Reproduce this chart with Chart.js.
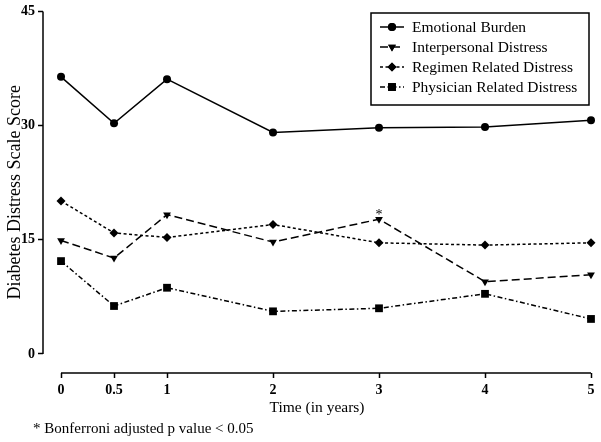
<!DOCTYPE html>
<html>
<head>
<meta charset="utf-8">
<script src="https://cdn.jsdelivr.net/npm/chart.js@4/dist/chart.umd.min.js"></script>
<style>
html,body{margin:0;padding:0;background:#fff;}
#wrap{width:601px;height:442px;position:relative;}
</style>
</head>
<body>
<div id="wrap"><canvas id="c" width="601" height="442"></canvas></div>
<script>
const years = [0, 0.5, 1, 2, 3, 4, 5];
const xTickValues = [0, 0.5, 1, 2, 3, 4, 5];
const yTickValues = [0, 15, 30, 45];
const emotionalBurden = [36.4, 30.3, 36.1, 29.1, 29.7, 29.8, 30.7];
const interpersonalDistress = [14.9, 12.6, 18.3, 14.7, 17.7, 9.5, 10.4];
const regimenDistress = [20.1, 15.9, 15.3, 17.0, 14.6, 14.3, 14.6];
const physicianDistress = [12.2, 6.3, 8.7, 5.6, 6.0, 7.9, 4.6];
const seriesLabels = ['Emotional Burden', 'Interpersonal Distress', 'Regimen Related Distress', 'Physician Related Distress'];
const xTitle = 'Time (in years)';
const yTitle = 'Diabetes Distress Scale Score';
const footnote = '* Bonferroni adjusted p value < 0.05';
const significantSeries = 1;
const significantIndex = 4;

const SERIF = '"Liberation Serif", "Times New Roman", serif';

function pts(arr){ return years.map((x,i)=>({x:x, y:arr[i]})); }

const styles = [
  {dash: [], pointStyle: 'circle', radius: 4, rotation: 0},
  {dash: [8, 4], pointStyle: 'triangle', radius: 4.5, rotation: 180},
  {dash: [3, 2.5], pointStyle: 'rectRot', radius: 4.5, rotation: 0},
  {dash: [5, 2.5, 1.5, 2.5], pointStyle: 'rect', radius: 5.5, rotation: 0}
];
const allData = [emotionalBurden, interpersonalDistress, regimenDistress, physicianDistress];

const datasets = allData.map((d, i) => ({
  label: seriesLabels[i],
  data: pts(d),
  borderColor: '#000',
  backgroundColor: '#000',
  borderWidth: 1.5,
  borderDash: styles[i].dash,
  pointStyle: styles[i].pointStyle,
  pointRadius: styles[i].radius,
  pointRotation: styles[i].rotation,
  pointBorderWidth: 0,
  pointBackgroundColor: '#000',
  tension: 0,
  clip: false
}));

const decor = {
  id: 'decor',
  afterDraw(chart) {
    const ctx = chart.ctx;
    const xs = chart.scales.x, ys = chart.scales.y;
    const ca = chart.chartArea;
    ctx.save();
    ctx.strokeStyle = '#000';
    ctx.lineWidth = 1.5;
    ctx.setLineDash([]);
    // y axis line
    ctx.beginPath();
    ctx.moveTo(ca.left, ys.getPixelForValue(45));
    ctx.lineTo(ca.left, ys.getPixelForValue(0));
    ctx.stroke();
    // x axis line
    ctx.beginPath();
    ctx.moveTo(xs.getPixelForValue(0), ca.bottom);
    ctx.lineTo(xs.getPixelForValue(5), ca.bottom);
    ctx.stroke();
    // asterisk
    ctx.fillStyle = '#000';
    ctx.font = '14px ' + SERIF;
    ctx.textAlign = 'center';
    ctx.textBaseline = 'middle';
    const ax = xs.getPixelForValue(years[significantIndex]);
    const ay = ys.getPixelForValue(allData[significantSeries][significantIndex]);
    ctx.fillText('*', ax, ay - 4);
    // footnote
    ctx.textAlign = 'left';
    ctx.font = '15px ' + SERIF;
    ctx.fillText(footnote, 33, 429);
    // legend
    const bx = 371, by = 13, bw = 218, bh = 92;
    ctx.lineWidth = 1.5;
    ctx.strokeRect(bx, by, bw, bh);
    chart.data.datasets.forEach((ds, i) => {
      const yy = 27 + i * 20;
      ctx.save();
      ctx.lineWidth = 1.5;
      ctx.setLineDash(ds.borderDash);
      ctx.beginPath();
      ctx.moveTo(380, yy);
      ctx.lineTo(404, yy);
      ctx.stroke();
      ctx.restore();
      Chart.helpers.drawPoint(ctx, {pointStyle: ds.pointStyle, rotation: ds.pointRotation, radius: ds.pointRadius, borderWidth: 0}, 392, yy);
      ctx.fill();
      ctx.fillStyle = '#000';
      ctx.font = '15.5px ' + SERIF;
      ctx.textAlign = 'left';
      ctx.textBaseline = 'middle';
      ctx.fillText(ds.label, 412, yy + 1);
    });
    ctx.restore();
  }
};

new Chart(document.getElementById('c'), {
  type: 'line',
  data: { datasets: datasets },
  options: {
    responsive: false,
    animation: false,
    events: [],
    layout: { padding: { top: 10, right: 10, left: 0, bottom: 25 } },
    plugins: { legend: { display: false }, tooltip: { enabled: false } },
    scales: {
      x: {
        type: 'linear',
        min: -0.17,
        max: 5,
        afterBuildTicks: (s) => { s.ticks = xTickValues.map(v => ({value: v})); },
        afterFit: (s) => { s.height = 44; },
        grid: { drawOnChartArea: false, drawTicks: true, tickLength: 5, tickWidth: 1.5, tickColor: '#000' },
        border: { display: false },
        ticks: { color: '#000', padding: 4, maxRotation: 0, autoSkip: false, font: { family: SERIF, size: 14, weight: 'bold' }, callback: (v) => String(v) },
        title: { display: true, text: xTitle, color: '#000', font: { family: SERIF, size: 15.5 }, padding: { top: 0, bottom: 0 } }
      },
      y: {
        type: 'linear',
        min: -2.5,
        max: 45,
        afterBuildTicks: (s) => { s.ticks = yTickValues.map(v => ({value: v})); },
        afterFit: (s) => { s.width = 43; },
        grid: { drawOnChartArea: false, drawTicks: true, tickLength: 5, tickWidth: 1.5, tickColor: '#000' },
        border: { display: false },
        ticks: { color: '#000', padding: 3, font: { family: SERIF, size: 14, weight: 'bold' }, callback: (v) => String(v) },
        title: { display: true, text: yTitle, color: '#000', font: { family: SERIF, size: 18 }, padding: { top: 4, bottom: 0 } }
      }
    }
  },
  plugins: [decor]
});
</script>
</body>
</html>
